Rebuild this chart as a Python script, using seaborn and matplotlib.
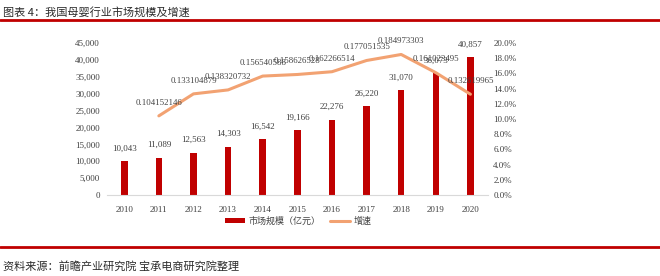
import numpy as np
import pandas as pd
import matplotlib
matplotlib.use("Agg")
import matplotlib.pyplot as plt
import seaborn as sns
from matplotlib.lines import Line2D
from matplotlib.patches import Patch

years = [2010, 2011, 2012, 2013, 2014, 2015, 2016, 2017, 2018, 2019, 2020]
market_size = [10043, 11089, 12563, 14303, 16542, 19166, 22276, 26220, 31070, 36073, 40857]
growth_years = [2011, 2012, 2013, 2014, 2015, 2016, 2017, 2018, 2019, 2020]
growth = [0.104152146, 0.133104879, 0.138320732, 0.156540588, 0.158626528,
          0.162266514, 0.177051535, 0.184973303, 0.161023495, 0.132619965]
left_ticks = [0, 5000, 10000, 15000, 20000, 25000, 30000, 35000, 40000, 45000]
right_ticks = [0.0, 0.02, 0.04, 0.06, 0.08, 0.10, 0.12, 0.14, 0.16, 0.18, 0.20]

title = "图表 4：我国母婴行业市场规模及增速"
source = "资料来源：前瞻产业研究院 宝承电商研究院整理"
bar_name = "市场规模（亿元）"
line_name = "增速"

sns.set_theme(style="white")
plt.rcParams['font.family'] = ['Noto Sans CJK SC', 'DejaVu Sans']

BAR = "#C00000"
LINE = "#F2A272"
TXT = "#404040"
NUMFONT = ['Liberation Serif', 'DejaVu Serif']

fig = plt.figure(figsize=(6.6, 2.76), dpi=100)
fig.patch.set_facecolor("white")
ax = fig.add_axes([0.162, 0.2935, 0.577, 0.5505])

df_bar = pd.DataFrame({"year": years, "size": market_size})
sns.barplot(data=df_bar, x="year", y="size", native_scale=True, width=0.19,
            color=BAR, saturation=1, ax=ax, edgecolor="none")
ax.set_xlim(2009.5, 2020.5)
ax.set_ylim(0, 45000)
ax.set_yticks(left_ticks)
ax.set_yticklabels([f"{v:,}" for v in left_ticks], fontsize=6.5, color=TXT, family=NUMFONT)
ax.set_xticks(years)
ax.set_xticklabels([str(y) for y in years], fontsize=6.5, color=TXT, family=NUMFONT)
ax.set_xlabel("")
ax.set_ylabel("")
for s in ["top", "right", "left"]:
    ax.spines[s].set_visible(False)
ax.spines["bottom"].set_color("#D9D9D9")
ax.spines["bottom"].set_linewidth(0.8)
ax.tick_params(axis="both", length=0, pad=5)
ax.tick_params(axis="x", pad=8)

for x, v in zip(years, market_size):
    ax.annotate(f"{v:,}", xy=(x, v), xytext=(0, 9), textcoords="offset points",
                ha="center", va="center", fontsize=6.5, color=TXT, family=NUMFONT)

ax2 = ax.twinx()
df_line = pd.DataFrame({"year": growth_years, "growth": growth})
sns.lineplot(data=df_line, x="year", y="growth", color=LINE, linewidth=2.2,
             ax=ax2, legend=False)
ax2.set_ylim(0, 0.20)
ax2.set_xlim(2009.5, 2020.5)
ax2.set_yticks(right_ticks)
ax2.set_yticklabels([f"{v*100:.1f}%" for v in right_ticks], fontsize=6.5, color=TXT, family=NUMFONT)
ax2.set_ylabel("")
ax2.set_xlabel("")
for s in ["top", "right", "left", "bottom"]:
    ax2.spines[s].set_visible(False)
ax2.tick_params(axis="y", length=0, pad=4)

for x, v in zip(growth_years, growth):
    ax2.annotate(f"{v:.9f}", xy=(x, v), xytext=(0, 9.5), textcoords="offset points",
                 ha="center", va="center", fontsize=6.3, color=TXT, family=NUMFONT)

handles = [Patch(facecolor=BAR, edgecolor="none"),
           Line2D([0], [0], color=LINE, linewidth=2.2)]
fig.legend(handles, [bar_name, line_name], loc="center", bbox_to_anchor=(0.452, 0.2),
           ncol=2, frameon=False, fontsize=6.5, handlelength=2.2, handleheight=0.5,
           columnspacing=1.0, handletextpad=0.4, labelcolor=TXT)

# header / footer
fig.text(0.004, 0.955, title, fontsize=8, color="#2B2B2B", ha="left", va="center",
         style="italic")
fig.add_artist(Line2D([0, 1], [0.929, 0.929], transform=fig.transFigure,
                      color=BAR, linewidth=2.0))
fig.add_artist(Line2D([0, 1], [0.105, 0.105], transform=fig.transFigure,
                      color=BAR, linewidth=2.0))
fig.text(0.004, 0.035, source, fontsize=8, color="#2B2B2B", ha="left", va="center",
         style="italic")

fig.savefig("out.png", dpi=100, facecolor="white")
